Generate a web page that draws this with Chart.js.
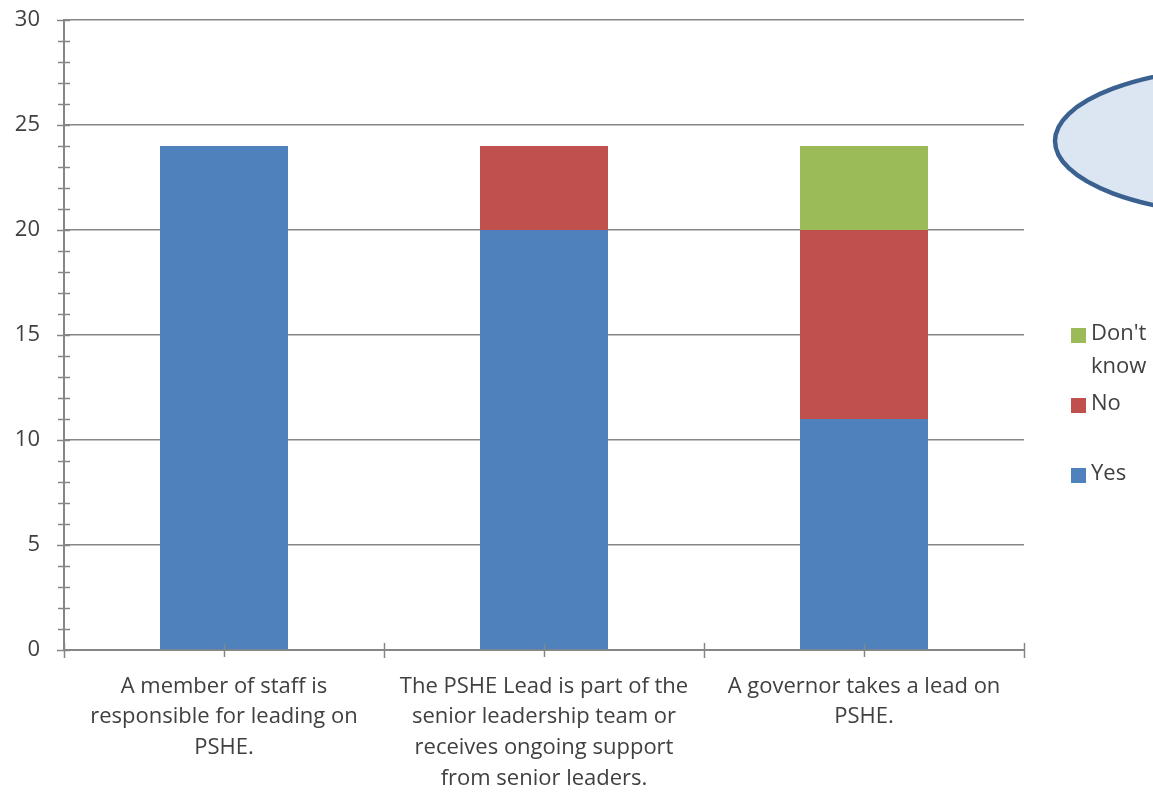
<!DOCTYPE html>
<html>
<head>
<meta charset="utf-8">
<script src="https://cdn.jsdelivr.net/npm/chart.js@4"></script>
<style>
  html, body { margin: 0; padding: 0; background: #fff; }
  #wrap { width: 1153px; height: 792px; position: relative; }
</style>
</head>
<body>
<div id="wrap"><canvas id="c" width="1153" height="792"></canvas></div>
<script>
const categories = [
  ['A member of staff is', 'responsible for leading on', 'PSHE.'],
  ['The PSHE Lead is part of the', 'senior leadership team or', 'receives ongoing support', 'from senior leaders.'],
  ['A governor takes a lead on', 'PSHE.']
];
const yesValues = [24, 20, 11];
const noValues = [0, 4, 9];
const dontKnowValues = [0, 0, 4];
const seriesLabels = ['Yes', 'No', "Don't know"];
const seriesColors = ['#4f81bd', '#c0504d', '#9bbb59'];

const FONT = '"Open Sans", "DejaVu Sans", sans-serif';
const AXIS = '#868686';
const TEXT = '#404040';

// Tick marks that cross the axis lines, plus the callout ellipse and legend
const decorations = {
  id: 'decorations',
  afterDraw(chart) {
    const { ctx, scales: { x, y }, chartArea } = chart;
    ctx.save();
    ctx.strokeStyle = AXIS;
    ctx.lineWidth = 1.5;
    // y minor/major ticks every unit
    for (let v = 0; v <= 30; v++) {
      const py = Math.round(y.getPixelForValue(v)) + 0.5;
      const x0 = v % 5 === 0 ? chartArea.left - 7 : chartArea.left - 6;
      ctx.beginPath();
      ctx.moveTo(x0, py);
      ctx.lineTo(chartArea.left + 6, py);
      ctx.stroke();
    }
    // x ticks at category boundaries and centres
    const n = categories.length;
    for (let i = 0; i <= n; i++) {
      const px = Math.round(x.getPixelForValue(i - 0.5)) + 0.5;
      ctx.beginPath();
      ctx.moveTo(px, chartArea.bottom - 7);
      ctx.lineTo(px, chartArea.bottom + 8);
      ctx.stroke();
    }
    for (let i = 0; i < n; i++) {
      const px = Math.round(x.getPixelForValue(i)) + 0.5;
      ctx.beginPath();
      ctx.moveTo(px, chartArea.bottom - 6);
      ctx.lineTo(px, chartArea.bottom + 7);
      ctx.stroke();
    }

    // callout ellipse at the upper right
    ctx.beginPath();
    ctx.ellipse(1252, 141, 197, 74, 0, 0, Math.PI * 2);
    ctx.fillStyle = '#dce6f2';
    ctx.fill();
    ctx.lineWidth = 4.5;
    ctx.strokeStyle = '#3b6190';
    ctx.stroke();

    // legend (reverse order, as stacked)
    const items = [
      { ds: 2, lines: ["Don't", 'know'], sq: 328 },
      { ds: 1, lines: ['No'], sq: 398 },
      { ds: 0, lines: ['Yes'], sq: 468 }
    ];
    ctx.font = '22px ' + FONT;
    ctx.textBaseline = 'middle';
    ctx.textAlign = 'left';
    items.forEach(it => {
      const dset = chart.data.datasets[it.ds];
      ctx.fillStyle = dset.backgroundColor;
      ctx.fillRect(1071, it.sq, 15, 15);
      ctx.fillStyle = TEXT;
      it.lines.forEach((t, k) => ctx.fillText(t, 1091, it.sq + 6 + k * 33));
    });
    ctx.restore();
  }
};

new Chart(document.getElementById('c'), {
  type: 'bar',
  data: {
    labels: categories,
    datasets: [
      { label: seriesLabels[0], data: yesValues, backgroundColor: seriesColors[0] },
      { label: seriesLabels[1], data: noValues, backgroundColor: seriesColors[1] },
      { label: seriesLabels[2], data: dontKnowValues, backgroundColor: seriesColors[2] }
    ]
  },
  options: {
    responsive: false,
    animation: false,
    layout: { padding: { left: 0, right: 129, top: 20, bottom: 0 } },
    datasets: { bar: { barPercentage: 0.4, categoryPercentage: 1.0 } },
    plugins: {
      legend: { display: false },
      tooltip: { enabled: false }
    },
    scales: {
      x: {
        stacked: true,
        afterFit(scale) { scale.height = 142; },
        grid: { display: false, drawTicks: false },
        border: { display: true, color: AXIS, width: 2 },
        ticks: {
          color: TEXT,
          font: { family: FONT, size: 22, lineHeight: 1.4 },
          padding: 21,
          maxRotation: 0,
          autoSkip: false
        }
      },
      y: {
        stacked: true,
        min: 0,
        max: 30,
        afterFit(scale) { scale.width = 64; scale.paddingTop = 0; scale.paddingBottom = 0; },
        grid: { color: AXIS, lineWidth: 1.5, drawTicks: false },
        border: { display: true, color: AXIS, width: 2 },
        ticks: {
          stepSize: 5,
          color: TEXT,
          padding: 24,
          font: { family: FONT, size: 22, lineHeight: 0.2 }
        }
      }
    }
  },
  plugins: [decorations]
});
</script>
</body>
</html>
